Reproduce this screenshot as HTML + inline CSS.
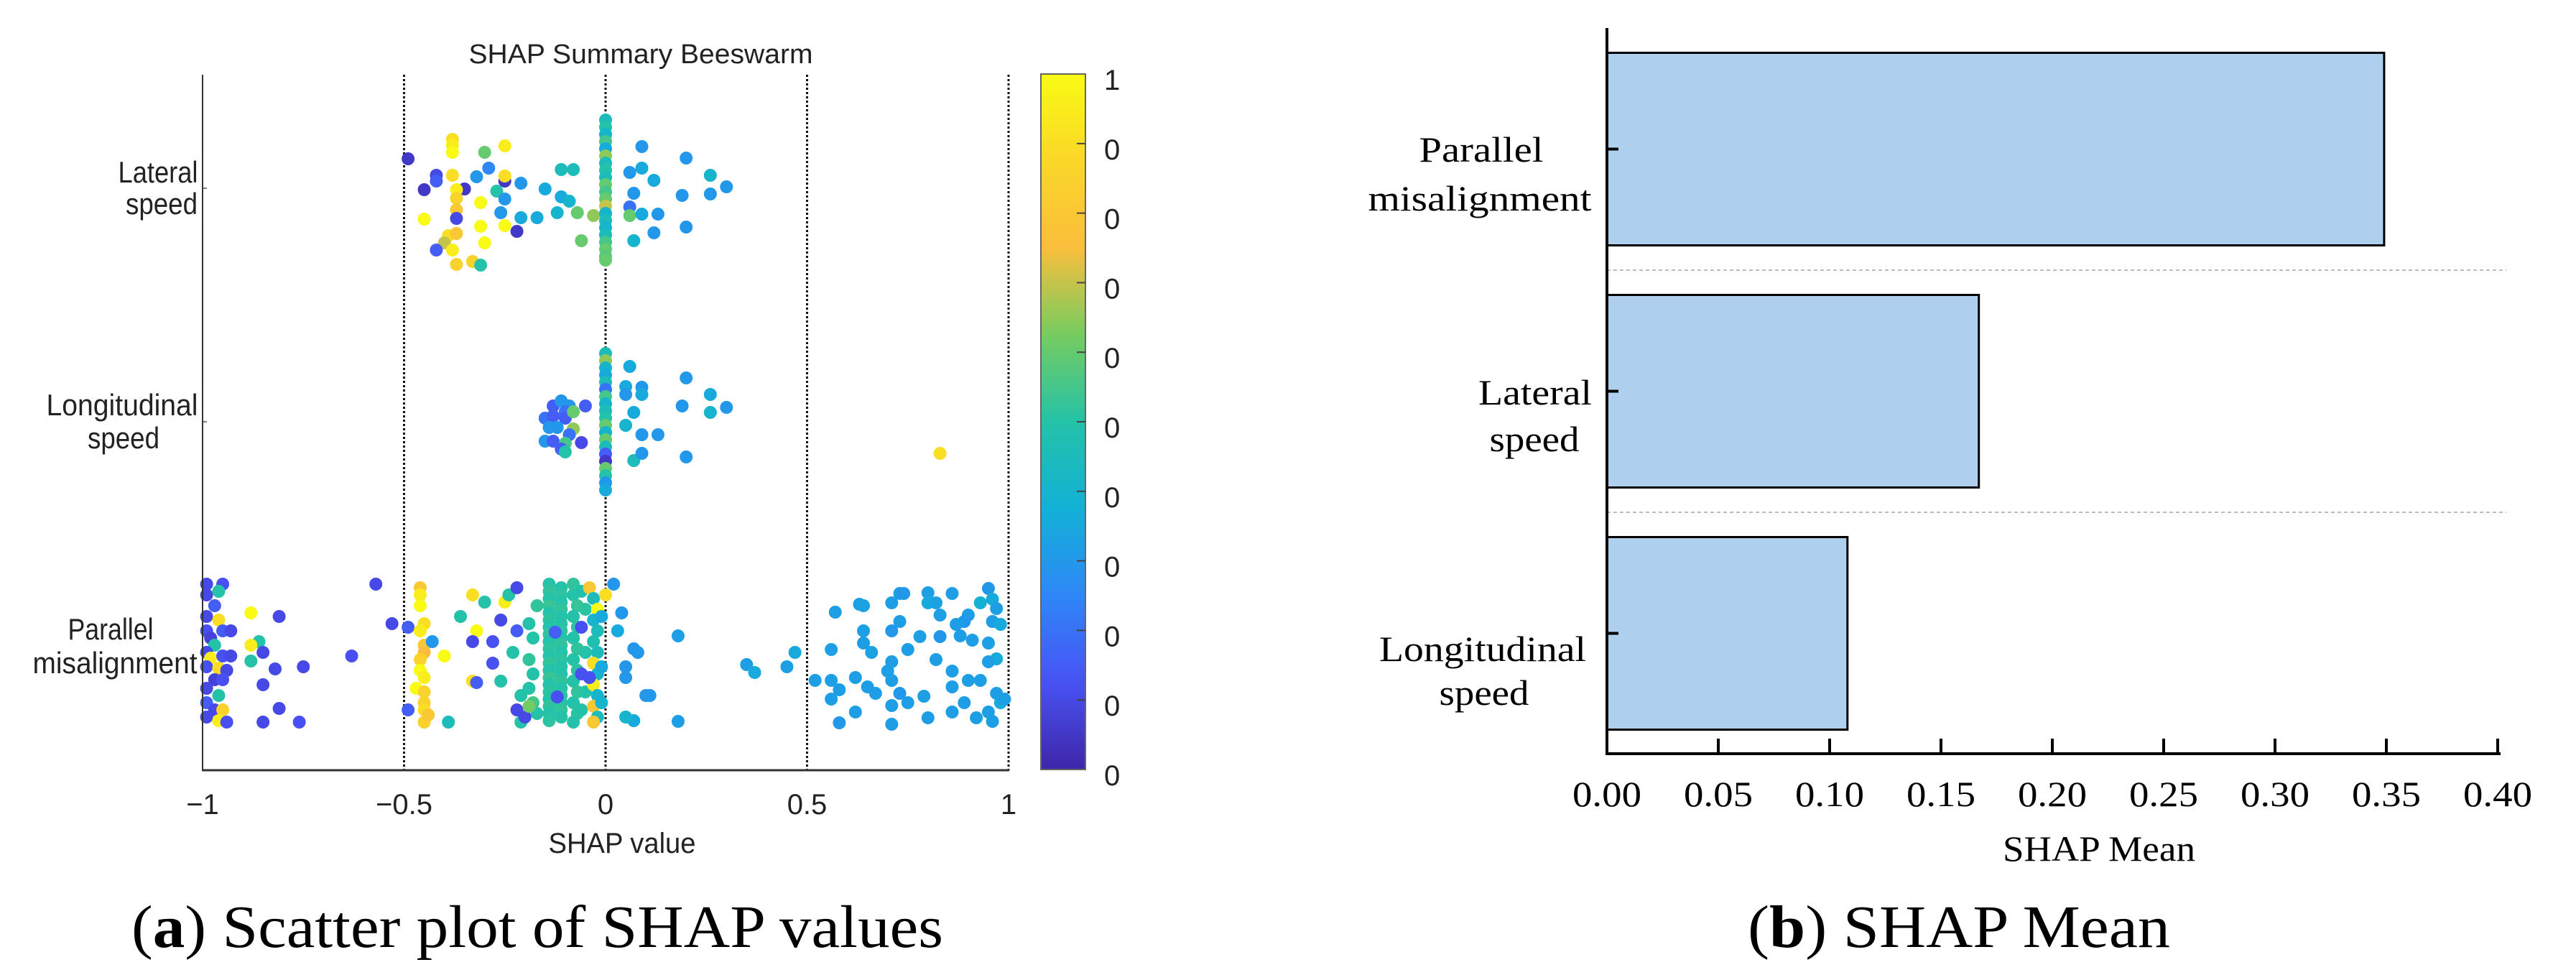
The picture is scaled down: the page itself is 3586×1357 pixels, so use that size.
<!DOCTYPE html>
<html><head><meta charset="utf-8">
<style>
html,body{margin:0;padding:0;background:#fff;}
svg{display:block;}
.sans{font-family:"Liberation Sans",sans-serif;fill:#222;}
.serif{font-family:"Liberation Serif",serif;fill:#000;}
</style></head>
<body>
<svg id="fig" width="3586" height="1357" viewBox="0 0 3586 1357" xmlns="http://www.w3.org/2000/svg">
<defs>
<linearGradient id="parula" x1="0" y1="1" x2="0" y2="0">
<stop offset="0" stop-color="rgb(62,38,168)"/>
<stop offset="0.125" stop-color="rgb(72,82,244)"/>
<stop offset="0.25" stop-color="rgb(46,135,247)"/>
<stop offset="0.375" stop-color="rgb(18,177,214)"/>
<stop offset="0.5" stop-color="rgb(36,194,168)"/>
<stop offset="0.625" stop-color="rgb(118,204,96)"/>
<stop offset="0.75" stop-color="rgb(250,190,60)"/>
<stop offset="0.875" stop-color="rgb(250,215,40)"/>
<stop offset="1" stop-color="rgb(249,251,20)"/>
</linearGradient>
</defs>
<g id="left">
<text class="sans" x="892" y="88" font-size="38" text-anchor="middle" textLength="479" lengthAdjust="spacingAndGlyphs">SHAP Summary Beeswarm</text>
<g id="grid"></g>
<g id="dots"></g>
<line x1="282" y1="104" x2="282" y2="1072" stroke="#333" stroke-width="2"/>
<line x1="281" y1="1072" x2="1405" y2="1072" stroke="#333" stroke-width="3"/>
<g id="xticks"></g>
<text class="sans" x="866" y="1187" font-size="40" text-anchor="middle" textLength="205" lengthAdjust="spacingAndGlyphs">SHAP value</text>
<g>
<text class="sans" x="220" y="254" font-size="42" text-anchor="middle" textLength="111" lengthAdjust="spacingAndGlyphs">Lateral</text>
<text class="sans" x="225" y="298" font-size="42" text-anchor="middle" textLength="100" lengthAdjust="spacingAndGlyphs">speed</text>
<text class="sans" x="170" y="578" font-size="42" text-anchor="middle" textLength="211" lengthAdjust="spacingAndGlyphs">Longitudinal</text>
<text class="sans" x="172" y="624" font-size="42" text-anchor="middle" textLength="100" lengthAdjust="spacingAndGlyphs">speed</text>
<text class="sans" x="154" y="890" font-size="42" text-anchor="middle" textLength="119" lengthAdjust="spacingAndGlyphs">Parallel</text>
<text class="sans" x="160" y="937" font-size="42" text-anchor="middle" textLength="229" lengthAdjust="spacingAndGlyphs">misalignment</text>
</g>
<rect x="1449" y="103" width="62" height="968" fill="url(#parula)" stroke="#666" stroke-width="2"/>
<g id="cbticks"></g>
<text class="serif" x="748" y="1318" font-size="84" text-anchor="middle" textLength="1130" lengthAdjust="spacingAndGlyphs">(<tspan font-weight="bold">a</tspan>) Scatter plot of SHAP values</text>
</g>
<g id="right">
<g id="bars"></g>
<g id="rticks"></g>
<line x1="2237" y1="39" x2="2237" y2="1051" stroke="#000" stroke-width="4"/>
<line x1="2235" y1="1049" x2="3481" y2="1049" stroke="#000" stroke-width="4"/>
<g>
<text class="serif" x="2062" y="225" font-size="50" text-anchor="middle" textLength="173" lengthAdjust="spacingAndGlyphs">Parallel</text>
<text class="serif" x="2060" y="293" font-size="50" text-anchor="middle" textLength="311" lengthAdjust="spacingAndGlyphs">misalignment</text>
<text class="serif" x="2137" y="563" font-size="50" text-anchor="middle" textLength="158" lengthAdjust="spacingAndGlyphs">Lateral</text>
<text class="serif" x="2136" y="628" font-size="50" text-anchor="middle" textLength="125" lengthAdjust="spacingAndGlyphs">speed</text>
<text class="serif" x="2064" y="920" font-size="50" text-anchor="middle" textLength="288" lengthAdjust="spacingAndGlyphs">Longitudinal</text>
<text class="serif" x="2066" y="981" font-size="50" text-anchor="middle" textLength="125" lengthAdjust="spacingAndGlyphs">speed</text>
</g>
<text class="serif" x="2922" y="1198" font-size="50" text-anchor="middle" textLength="268" lengthAdjust="spacingAndGlyphs">SHAP Mean</text>
<text class="serif" x="2727" y="1318" font-size="84" text-anchor="middle" textLength="588" lengthAdjust="spacingAndGlyphs">(<tspan font-weight="bold">b</tspan>) SHAP Mean</text>
</g>
</svg>
<script>
// ---------- Beeswarm data: [shap value, vertical jitter (-1..1), feature value (0..1)] ----------
const xTickValues = [-1, -0.5, 0, 0.5, 1];
const xTickLabels = ["\u22121", "\u22120.5", "0", "0.5", "1"];
const rowFeatures = ["Lateral speed", "Longitudinal speed", "Parallel misalignment"];
const colorbarLabels = ["1","0","0","0","0","0","0","0","0","0","0"];
const lateralPoints = [
[-0.49,-0.41,0.05],[-0.38,-0.68,0.9],[-0.38,-0.6,0.95],[-0.38,-0.5,1],[-0.25,-0.59,0.95],[-0.30,-0.5,0.6],
[-0.42,-0.18,0.1],[-0.42,-0.1,0.15],[-0.45,0.02,0.05],[-0.38,-0.18,0.9],[-0.32,-0.16,0.3],[-0.29,-0.28,0.25],
[-0.25,-0.1,0.05],[-0.21,-0.07,0.3],[-0.35,0.01,0.05],[-0.37,0.02,0.95],[-0.37,0.14,0.85],[-0.37,0.3,0.8],
[-0.37,0.42,0.1],[-0.45,0.43,1],[-0.31,0.2,1],[-0.27,0.04,0.5],[-0.25,0.15,0.3],[-0.26,0.34,0.3],
[-0.25,-0.17,0.9],[-0.22,0.6,0.05],[-0.31,0.53,1],[-0.25,0.52,1],[-0.39,0.66,0.9],[-0.37,0.63,0.8],
[-0.40,0.76,0.7],[-0.42,0.86,0.15],[-0.38,0.86,0.95],[-0.30,0.76,1],[-0.37,1.06,0.85],[-0.33,1.02,0.85],
[-0.31,1.07,0.5],[-0.21,0.41,0.35],[-0.17,0.41,0.35],[-0.15,0.01,0.35],[-0.11,0.12,0.35],[-0.12,0.34,0.4],
[-0.09,0.18,0.4],[-0.11,-0.26,0.45],[-0.08,-0.26,0.45],[-0.07,0.34,0.6],[-0.06,0.73,0.6],[-0.03,0.38,0.65],
[0.06,0.26,0.2],[0.06,0.38,0.6],[0.09,-0.58,0.3],[0.06,-0.22,0.3],[0.09,-0.28,0.35],[0.12,-0.11,0.35],
[0.07,0.07,0.3],[0.09,0.36,0.35],[0.13,0.36,0.3],[0.12,0.62,0.3],[0.07,0.73,0.4],[0.20,-0.42,0.3],
[0.19,0.1,0.3],[0.26,-0.18,0.4],[0.26,0.08,0.3],[0.30,-0.02,0.3],[0.20,0.54,0.3],
[0,-0.95,0.45],[0,-0.85,0.5],[0,-0.75,0.4],[0,-0.65,0.55],[0,-0.55,0.35],[0,-0.45,0.65],[0,-0.35,0.45],
[0,-0.25,0.5],[0,-0.15,0.45],[0,-0.05,0.6],[0,0.05,0.55],[0,0.15,0.6],[0,0.25,0.7],[0,0.35,0.4],
[0,0.45,0.45],[0,0.55,0.4],[0,0.65,0.45],[0,0.75,0.55],[0,0.85,0.6],[0,0.95,0.58],[0,1.0,0.6]
];
const longitudinalPoints = [
[-0.13,-0.22,0.15],[-0.11,-0.29,0.3],[-0.09,-0.22,0.3],[-0.10,-0.14,0.2],[-0.15,-0.05,0.2],[-0.13,-0.08,0.15],
[-0.10,-0.05,0.15],[-0.08,-0.14,0.6],[-0.08,0.1,0.65],[-0.05,-0.22,0.15],[-0.12,0.08,0.3],[-0.14,0.08,0.3],
[-0.09,0.18,0.2],[-0.15,0.27,0.3],[-0.13,0.27,0.15],[-0.10,0.3,0.55],[-0.06,0.29,0.1],[-0.11,0.38,0.15],
[-0.10,0.42,0.5],[0.06,-0.77,0.35],[0.05,-0.49,0.35],[0.09,-0.48,0.3],[0.09,-0.38,0.35],[0.05,-0.38,0.3],
[0.07,-0.13,0.35],[0.05,0.05,0.4],[0.09,0.18,0.3],[0.13,0.18,0.3],[0.07,0.54,0.45],[0.09,0.44,0.3],
[0.20,-0.61,0.3],[0.26,-0.38,0.35],[0.19,-0.22,0.3],[0.26,-0.13,0.4],[0.30,-0.2,0.3],[0.20,0.49,0.3],
[0.83,0.44,0.9],
[0,-0.95,0.45],[0,-0.85,0.65],[0,-0.75,0.4],[0,-0.65,0.35],[0,-0.55,0.45],[0,-0.45,0.2],[0,-0.35,0.55],
[0,-0.25,0.4],[0,-0.15,0.45],[0,-0.05,0.5],[0,0.05,0.6],[0,0.15,0.4],[0,0.25,0.6],[0,0.35,0.45],
[0,0.45,0.15],[0,0.55,0.05],[0,0.65,0.6],[0,0.75,0.5],[0,0.85,0.3],[0,0.95,0.35]
];
const parallelPoints = [
[-0.99,-0.95,0.1],[-0.95,-0.95,0.12],[-0.99,-0.8,0.1],[-0.96,-0.85,0.5],[-0.97,-0.65,0.15],[-0.99,-0.5,0.1],
[-0.96,-0.45,0.9],[-0.99,-0.3,0.12],[-0.98,-0.2,0.08],[-0.95,-0.3,0.15],[-0.93,-0.3,0.1],[-0.97,-0.1,0.5],
[-0.99,0.0,0.1],[-0.98,0.08,0.95],[-0.95,0.05,0.12],[-0.93,0.05,0.1],[-0.99,0.2,0.12],[-0.96,0.22,0.9],
[-0.94,0.25,0.1],[-0.97,0.38,0.08],[-0.95,0.38,0.12],[-0.99,0.5,0.1],[-0.96,0.6,0.5],[-0.99,0.7,0.15],
[-0.97,0.8,0.1],[-0.95,0.8,0.85],[-0.99,0.9,0.1],[-0.96,0.95,0.95],[-0.94,0.97,0.12],[-0.88,-0.55,1],
[-0.86,-0.15,0.5],[-0.88,0.12,0.5],[-0.88,-0.1,0.95],[-0.85,0.0,0.1],[-0.85,0.45,0.1],[-0.85,0.97,0.1],
[-0.81,-0.5,0.1],[-0.82,0.23,0.1],[-0.81,0.78,0.1],[-0.76,0.97,0.12],[-0.75,0.2,0.1],[-0.63,0.05,0.12],
[-0.57,-0.95,0.1],[-0.53,-0.4,0.1],[-0.49,-0.35,0.15],[-0.49,0.8,0.15],
[-0.46,-0.9,0.8],[-0.46,-0.8,0.95],[-0.46,-0.65,1],[-0.45,-0.4,0.9],[-0.46,-0.3,0.95],[-0.45,-0.1,0.8],
[-0.45,0.0,0.75],[-0.46,0.1,0.85],[-0.46,0.25,1],[-0.45,0.35,0.95],[-0.47,0.5,1],[-0.45,0.55,0.85],
[-0.45,0.7,0.85],[-0.45,0.8,0.9],[-0.45,0.97,0.85],[-0.44,0.87,0.8],
[-0.43,-0.15,0.3],[-0.39,0.97,0.45],[-0.40,0.05,1],[-0.36,-0.5,0.5],[-0.33,-0.8,0.9],[-0.33,0.4,0.9],
[-0.32,-0.3,1],[-0.33,-0.15,0.1],[-0.32,0.42,0.15],[-0.30,-0.7,0.5],[-0.28,-0.15,0.12],[-0.28,0.15,0.12],
[-0.26,-0.45,0.1],[-0.26,0.4,0.5],[-0.25,-0.7,0.95],[-0.24,-0.8,0.5],[-0.23,0.0,0.5],[-0.22,-0.9,0.1],
[-0.22,-0.3,0.15],[-0.22,0.8,0.1],[-0.21,0.97,0.5],[-0.21,0.6,0.5],
[-0.19,-0.4,0.5],[-0.18,-0.2,0.5],[-0.19,0.1,0.52],[-0.18,0.3,0.5],[-0.19,0.5,0.5],[-0.18,0.7,0.55],
[-0.17,-0.65,0.52],[-0.17,0.85,0.5],[-0.2,0.9,0.1],[-0.19,0.75,0.62],
[-0.14,-0.95,0.5],[-0.14,-0.85,0.52],[-0.14,-0.75,0.5],[-0.14,-0.65,0.53],[-0.14,-0.55,0.5],[-0.14,-0.45,0.51],
[-0.14,-0.35,0.5],[-0.14,-0.25,0.52],[-0.14,-0.15,0.5],[-0.14,-0.05,0.51],[-0.14,0.05,0.5],[-0.14,0.15,0.52],
[-0.14,0.25,0.5],[-0.14,0.35,0.53],[-0.14,0.45,0.5],[-0.14,0.55,0.51],[-0.14,0.65,0.5],[-0.14,0.75,0.52],
[-0.14,0.85,0.5],[-0.14,0.95,0.51],
[-0.11,-0.9,0.5],[-0.11,-0.8,0.51],[-0.11,-0.7,0.5],[-0.11,-0.6,0.52],[-0.11,-0.5,0.5],[-0.11,-0.4,0.5],
[-0.11,-0.3,0.51],[-0.11,-0.2,0.5],[-0.11,-0.1,0.52],[-0.11,0.0,0.5],[-0.11,0.1,0.51],[-0.11,0.2,0.5],
[-0.11,0.3,0.5],[-0.11,0.4,0.52],[-0.11,0.5,0.5],[-0.11,0.6,0.51],[-0.11,0.7,0.5],[-0.11,0.8,0.52],[-0.11,0.9,0.5],
[-0.125,-0.28,0.15],[-0.12,0.62,0.12],
[-0.08,-0.95,0.52],[-0.08,-0.8,0.5],[-0.07,-0.65,0.53],[-0.08,-0.5,0.5],[-0.07,-0.35,0.51],[-0.08,-0.2,0.5],
[-0.07,-0.05,0.52],[-0.08,0.1,0.5],[-0.07,0.25,0.51],[-0.08,0.4,0.5],[-0.07,0.55,0.52],[-0.08,0.7,0.5],
[-0.07,0.85,0.51],[-0.08,0.97,0.5],[-0.06,-0.85,0.5],[-0.05,-0.6,0.51],[-0.06,-0.35,0.12],[-0.05,0.0,0.5],
[-0.06,0.3,0.12],[-0.05,0.55,0.5],[-0.06,0.8,0.5],
[-0.04,-0.9,0.8],[-0.03,-0.75,0.45],[-0.02,-0.6,1],[-0.03,-0.45,0.4],[-0.02,-0.3,0.45],[-0.03,-0.15,0.48],
[-0.02,0.0,0.45],[-0.03,0.15,0.9],[-0.02,0.3,0.4],[-0.03,0.45,0.95],[-0.02,0.6,0.4],[-0.03,0.75,0.8],
[-0.02,0.9,0.45],[-0.03,0.97,0.8],[-0.04,0.35,0.12],[-0.01,-0.5,0.35],[-0.01,0.2,0.35],[-0.01,0.7,0.4],
[0.02,-0.95,0.3],[0.0,-0.8,0.9],[0.03,-0.3,0.35],[0.07,-0.05,0.3],[0.08,0.0,0.3],[0.05,0.35,0.3],
[0.1,0.6,0.3],[0.11,0.6,0.3],[0.07,0.95,0.35],[0.05,0.9,0.4],[0.04,-0.55,0.3],[0.05,0.2,0.3],
[0.57,-0.56,0.32],[0.63,-0.67,0.32],[0.64,-0.65,0.33],[0.71,-0.69,0.32],[0.73,-0.82,0.32],[0.74,-0.82,0.3],
[0.80,-0.83,0.32],[0.80,-0.69,0.35],[0.82,-0.69,0.33],[0.86,-0.82,0.32],[0.95,-0.89,0.3],[0.96,-0.74,0.35],
[0.97,-0.61,0.32],[0.93,-0.69,0.38],[0.90,-0.52,0.32],[0.89,-0.43,0.3],[0.87,-0.39,0.32],[0.83,-0.52,0.32],
[0.96,-0.43,0.32],[0.98,-0.39,0.35],[0.73,-0.43,0.32],[0.71,-0.3,0.3],[0.64,-0.3,0.32],[0.56,-0.04,0.32],
[0.64,-0.13,0.32],[0.66,0.0,0.33],[0.75,-0.04,0.32],[0.78,-0.22,0.32],[0.83,-0.22,0.3],[0.88,-0.23,0.32],
[0.91,-0.17,0.32],[0.95,-0.13,0.32],[0.97,0.09,0.35],[0.95,0.13,0.32],[0.82,0.1,0.32],[0.71,0.13,0.32],
[0.70,0.26,0.32],[0.62,0.35,0.32],[0.65,0.48,0.32],[0.67,0.57,0.32],[0.71,0.39,0.32],[0.73,0.57,0.3],
[0.75,0.7,0.32],[0.79,0.61,0.32],[0.86,0.26,0.32],[0.86,0.48,0.32],[0.90,0.39,0.32],[0.93,0.39,0.32],
[0.97,0.57,0.32],[0.98,0.7,0.35],[0.95,0.83,0.32],[0.89,0.7,0.32],[0.86,0.83,0.32],[0.80,0.91,0.32],
[0.71,1.0,0.32],[0.62,0.83,0.32],[0.56,0.65,0.32],[0.58,0.52,0.32],[0.52,0.39,0.32],[0.56,0.39,0.32],
[0.58,0.98,0.3],[0.71,0.74,0.32],[0.92,0.91,0.32],[0.96,0.96,0.32],[0.99,0.65,0.32],[0.35,0.17,0.32],
[0.37,0.28,0.35],[0.45,0.2,0.32],[0.47,0.0,0.35],[0.18,-0.23,0.32],[0.18,0.96,0.32]
];
// ---------- Bar chart data ----------
const barCategories = ["Parallel misalignment", "Lateral speed", "Longitudinal speed"];
const barValues = [0.349, 0.167, 0.108];
const barTickValues = [0, 0.05, 0.10, 0.15, 0.20, 0.25, 0.30, 0.35, 0.40];
const barTickLabels = ["0.00","0.05","0.10","0.15","0.20","0.25","0.30","0.35","0.40"];

const NS = "http://www.w3.org/2000/svg";
function mk(tag, attrs, parent){const e=document.createElementNS(NS,tag);for(const k in attrs)e.setAttribute(k,attrs[k]);parent.appendChild(e);return e;}

const xMin=-1,xMax=1,xL=282,xR=1404;
function xs(v){return xL+(v-xMin)/(xMax-xMin)*(xR-xL);}
const rowCenters=[262,587,908];
const jitAmp=100;
function ys(row,j){return rowCenters[row]+j*jitAmp;}
const parStops=[[0,62,38,168],[0.125,72,82,244],[0.25,46,135,247],[0.375,18,177,214],[0.5,36,194,168],[0.625,118,204,96],[0.75,250,190,60],[0.875,250,215,40],[1,249,251,20]];
function parula(t){t=Math.max(0,Math.min(1,t));for(let i=1;i<parStops.length;i++){if(t<=parStops[i][0]){const a=parStops[i-1],b=parStops[i],f=(t-a[0])/(b[0]-a[0]);return `rgb(${Math.round(a[1]+f*(b[1]-a[1]))},${Math.round(a[2]+f*(b[2]-a[2]))},${Math.round(a[3]+f*(b[3]-a[3]))})`;}}return "rgb(249,251,20)";}

const grid=document.getElementById('grid');
xTickValues.forEach((v,i)=>{
  if(i>0){const l=mk('line',{x1:xs(v),y1:104,x2:xs(v),y2:1072,stroke:'#111','stroke-width':3,'stroke-dasharray':'3 3'},grid);
  
  }
});
const xt=document.getElementById('xticks');
xTickValues.forEach((v,i)=>{
  const t=mk('text',{x:xs(v),y:1133,'font-size':40,'text-anchor':'middle',class:'sans'},xt);
  t.textContent=xTickLabels[i];
  
  
});
rowCenters.forEach((c,i)=>{
  const l=mk('line',{x1:282,y1:c,x2:288,y2:c,stroke:'#555','stroke-width':1.5},grid);
  
  
});
const dots=document.getElementById('dots');
[lateralPoints,longitudinalPoints,parallelPoints].forEach((pts,row)=>{
  pts.forEach(p=>{
    const c=mk('circle',{cx:xs(p[0]),cy:ys(row,p[1]),r:9,fill:parula(p[2])},dots);
    
    
  });
});
const cb=document.getElementById('cbticks');
colorbarLabels.forEach((lab,i)=>{
  const y=111+i*96.8;
  const t=mk('text',{x:1537,y:y+14,'font-size':40,class:'sans'},cb);
  t.textContent=lab;
  
  
  if(i>0&&i<colorbarLabels.length-1){const l=mk('line',{x1:1499,y1:y-8,x2:1511,y2:y-8,stroke:'#444','stroke-width':2},cb);
  
  }
});

const bx0=2237,bx1=3477,bMax=0.40;
function bxs(v){return bx0+v/bMax*(bx1-bx0);}
const bandTop=39,bandH=337,barH=268;
const bars=document.getElementById('bars');
barCategories.forEach((c,i)=>{
  const cy=bandTop+bandH*i+bandH/2;
  const r=mk('rect',{x:bx0,y:cy-barH/2,width:bxs(barValues[i])-bx0,height:barH,fill:'#aecfed',stroke:'#000','stroke-width':3},bars);
  
  
  const tk=mk('line',{x1:bx0,y1:cy,x2:bx0+16,y2:cy,stroke:'#000','stroke-width':4},bars);
  
  
  if(i>0){const d=mk('line',{x1:bx0,y1:bandTop+bandH*i,x2:3489,y2:bandTop+bandH*i,stroke:'#bbb','stroke-width':2,'stroke-dasharray':'5 4'},bars);
  
  }
});
const rt=document.getElementById('rticks');
barTickValues.forEach((v,i)=>{
  const x=bxs(v);
  if(i>0){const l=mk('line',{x1:x,y1:1028,x2:x,y2:1049,stroke:'#000','stroke-width':4},rt);
  
  }
  const t=mk('text',{x:x,y:1122,'font-size':50,'text-anchor':'middle',class:'serif',textLength:96,lengthAdjust:'spacingAndGlyphs'},rt);
  t.textContent=barTickLabels[i];
  
  
});
</script>
</body></html>
